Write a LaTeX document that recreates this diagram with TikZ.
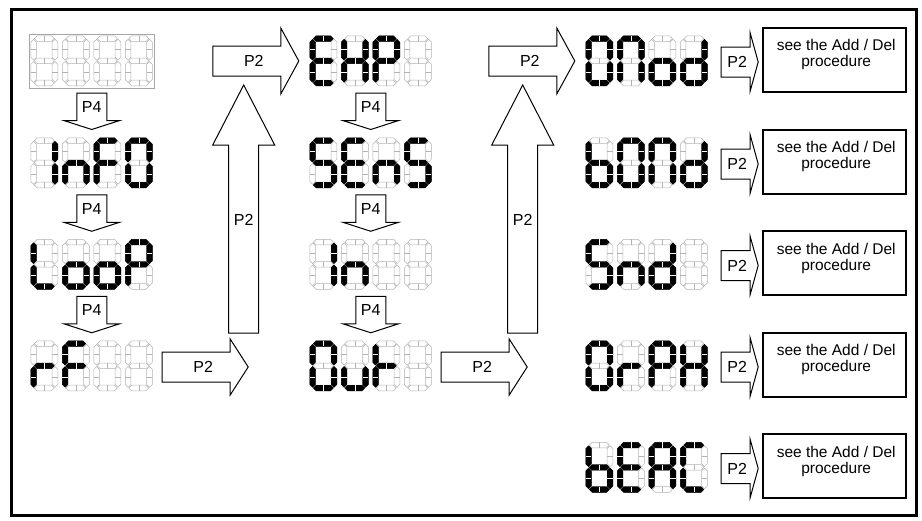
\documentclass[tikz,border=0pt]{standalone}
\usepackage{fontspec}
\setmainfont{Liberation Sans}
\usetikzlibrary{calc}

\newcommand\hseg[4]{%
  \draw[#1] (#2,#4) -- (#2+2.8,#4-2.8) -- (#3-2.8,#4-2.8) -- (#3,#4)
    -- (#3-2.8,#4+2.8) -- (#2+2.8,#4+2.8) -- cycle;
  \draw[#1 tick] ({(#2+#3)/2},#4-2.8) -- ++(0,5.6);}
\newcommand\vseg[4]{%
  \draw[#1] (#2,#3) -- (#2+2.8,#3+2.8) -- (#2+2.8,#4-2.8) -- (#2,#4)
    -- (#2-2.8,#4-2.8) -- (#2-2.8,#3+2.8) -- cycle;
  \draw[#1 tick] (#2-2.8,{(#3+#4)/2}) -- ++(5.6,0);}
\expandafter\def\csname lcdseg\endcsname#1{}
\expandafter\def\csname lcdsega\endcsname#1{\hseg{#1}{3.5}{23.5}{2.8}}
\expandafter\def\csname lcdsegb\endcsname#1{\vseg{#1}{24.2}{3.5}{24.3}}
\expandafter\def\csname lcdsegc\endcsname#1{\vseg{#1}{24.2}{25.7}{46.5}}
\expandafter\def\csname lcdsegd\endcsname#1{\hseg{#1}{3.5}{23.5}{47.2}}
\expandafter\def\csname lcdsege\endcsname#1{\vseg{#1}{2.8}{25.7}{46.5}}
\expandafter\def\csname lcdsegf\endcsname#1{\vseg{#1}{2.8}{3.5}{24.3}}
\expandafter\def\csname lcdsegg\endcsname#1{\hseg{#1}{3.5}{23.5}{25}}
\newcommand\lcddigit[3]{%
  \begin{scope}[shift={(#1.north west)},xshift=#2]
    \foreach \s in {a,b,c,d,e,f,g} {\csname lcdseg\s\endcsname{segoff}}
    \foreach \s in {#3} {\csname lcdseg\s\endcsname{segon}}
  \end{scope}}
\newcommand\lcdword[5]{%
  \lcddigit{#1}{0}{#2}\lcddigit{#1}{31.5}{#3}%
  \lcddigit{#1}{63}{#4}\lcddigit{#1}{94.5}{#5}}

\tikzset{
  p4 arrow/.pic={
    \draw[block] (-15,-19) -- (15,-19) -- (15,8.5) -- (28,8.5) -- (0,17.5)
      -- (-28,8.5) -- (-15,8.5) -- cycle;
    \node[key] (-txt) at (0,-5) {P4};},
  p2 long/.pic={
    \draw[block] (0,-15) -- (68,-15) -- (68,-#1) -- (86,0) -- (68,#1)
      -- (68,15) -- (0,15) -- cycle;
    \node[key] (-txt) at (41,0) {P2};},
  p2 short/.pic={
    \draw[block] (0,-15) -- (29,-15) -- (29,-29) -- (37,0) -- (29,29)
      -- (29,15) -- (0,15) -- cycle;
    \node[key] (-txt) at (16,0) {P2};},
  p2 up/.pic={
    \draw[block] (-15,0) -- (-15,-188) -- (-31,-188) -- (0,-248) -- (31,-188)
      -- (15,-188) -- (15,0) -- cycle;
    \node[key] (-txt) at (0,-113) {P2};}
}

\begin{document}
\begin{tikzpicture}[x=1pt,y=-1pt,
  display/.style={minimum width=121.5pt,minimum height=50pt,inner sep=0},
  segoff/.style={draw=black!30,line width=0.5pt},
  segoff tick/.style={draw=black!30,line width=0.5pt},
  segon/.style={draw=black,fill=black,line width=0.4pt},
  segon tick/.style={draw=white,line width=0.6pt},
  block/.style={draw=black,fill=white,line width=1pt},
  key/.style={font=\fontsize{16}{16}\selectfont,inner sep=0},
  procbox/.style={draw=black,line width=2pt,minimum width=143pt,minimum height=64pt,inner sep=0},
  proctext/.style={font=\fontsize{15.5}{16}\selectfont,align=center,inner sep=0}]
\useasboundingbox (0,0) rectangle (922,520);
\draw[line width=3pt] (11.5,9.5) rectangle (916,515);

\node[display] (blank) at (91.75,61) {};
\node[display] (info) at (91.75,163) {};
\node[display] (loop) at (91.75,264.5) {};
\node[display] (rf) at (91.75,366) {};
\node[display] (exp) at (370.75,61) {};
\node[display] (sens) at (370.75,163) {};
\node[display] (inp) at (370.75,264.5) {};
\node[display] (outp) at (370.75,366) {};
\node[display] (onod) at (646.75,61) {};
\node[display] (bond) at (646.75,163) {};
\node[display] (snd) at (646.75,264.5) {};
\node[display] (orph) at (646.75,366) {};
\node[display] (beac) at (646.75,467.5) {};

\draw[black!35,line width=0.6pt] ($(blank.north west)+(-2,-2)$) rectangle ($(blank.south east)+(2,2)$);
\lcdword{blank}{}{}{}{}
\lcdword{info}{b,c}{c,e,g}{a,e,f,g}{a,b,c,d,e,f}
\lcdword{loop}{d,e,f}{c,d,e,g}{c,d,e,g}{a,b,e,f,g}
\lcdword{rf}{e,g}{a,e,f,g}{}{}
\lcdword{exp}{a,d,e,f,g}{b,c,e,f,g}{a,b,e,f,g}{}
\lcdword{sens}{a,c,d,f,g}{a,d,e,f,g}{c,e,g}{a,c,d,f,g}
\lcdword{inp}{b,c}{c,e,g}{}{}
\lcdword{outp}{a,b,c,d,e,f}{c,d,e}{e,f,g}{}
\lcdword{onod}{a,b,c,d,e,f}{a,b,c,e,f}{c,d,e,g}{b,c,d,e,g}
\lcdword{bond}{c,d,e,f,g}{a,b,c,d,e,f}{a,b,c,e,f}{b,c,d,e,g}
\lcdword{snd}{a,c,d,f,g}{c,e,g}{b,c,d,e,g}{}
\lcdword{orph}{a,b,c,d,e,f}{e,g}{a,b,e,f,g}{b,c,e,f,g}
\lcdword{beac}{c,d,e,f,g}{a,d,e,f,g}{a,b,c,e,f,g}{a,d,e,f}

\pic (p4a) at ($(blank.south)!.5!(info.north)$) {p4 arrow};
\pic (p4b) at ($(info.south)!.5!(loop.north)$) {p4 arrow};
\pic (p4c) at ($(loop.south)!.5!(rf.north)$) {p4 arrow};
\pic (p4d) at ($(exp.south)!.5!(sens.north)$) {p4 arrow};
\pic (p4e) at ($(sens.south)!.5!(inp.north)$) {p4 arrow};
\pic (p4f) at ($(inp.south)!.5!(outp.north)$) {p4 arrow};

\pic (outa) at ($(rf.east)+(9.5,1)$) {p2 long=28};
\pic (upa) at ($(rf.east)+(91,-33)$) {p2 up};
\pic (ina) at ($(exp.west)+(-97,0)$) {p2 long=33};
\pic (outb) at ($(outp.east)+(9.5,1)$) {p2 long=28};
\pic (upb) at ($(outp.east)+(91,-33)$) {p2 up};
\pic (inb) at ($(onod.west)+(-97,0)$) {p2 long=33};

\foreach \d in {onod,bond,snd,orph,beac} {
  \pic (\d-key) at ($(\d.east)+(13.5,1)$) {p2 short};
  \node[procbox] (\d-box) at ($(\d.east)+(127,-1.5)$) {};
  \node[proctext] (\d-txt) at ($(\d-box.center)+(1.5,-5)$) {see the Add / Del\\procedure};
}
\end{tikzpicture}
\end{document}
